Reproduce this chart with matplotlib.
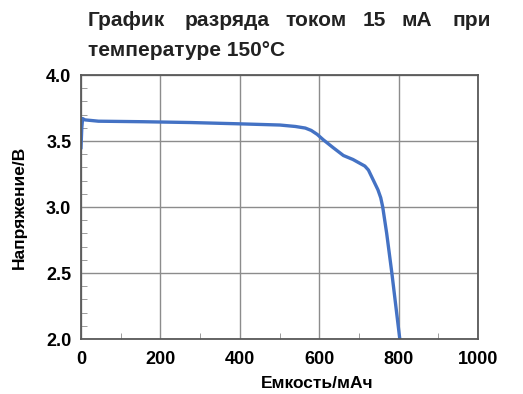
import matplotlib
matplotlib.use('Agg')
import matplotlib.pyplot as plt
from matplotlib.ticker import MultipleLocator

# discharge curve
capacity = [0, 2, 4, 10, 44, 100, 157, 275, 400, 501, 540, 565, 580, 595, 610, 635, 661, 685, 703, 715, 724, 732, 740, 748, 755, 760, 770, 783, 795, 803]
voltage = [3.45, 3.60, 3.67, 3.66, 3.65, 3.648, 3.646, 3.64, 3.63, 3.621, 3.61, 3.598, 3.58, 3.55, 3.51, 3.45, 3.39, 3.36, 3.33, 3.31, 3.28, 3.23, 3.18, 3.13, 3.07, 3.00, 2.80, 2.50, 2.20, 2.00]

title_line1 = ['График', 'разряда', 'током', '15', 'мА', 'при']
title_line2 = 'температуре 150°C'
x_label = 'Емкость/мАч'
y_label = 'Напряжение/В'

plt.rcParams['font.family'] = ['Liberation Sans', 'DejaVu Sans']
plt.rcParams['font.weight'] = 'bold'

W, H = 523, 394
fig = plt.figure(figsize=(W / 100, H / 100), dpi=100)
ax = fig.add_axes([81 / W, 1 - 339 / H, (478 - 81) / W, (339 - 75) / H])

ax.plot(capacity, voltage, color='#4472C4', lw=2.4, solid_joinstyle='round')

ax.set_xlim(0, 1000)
ax.set_ylim(2.0, 4.0)
ax.xaxis.set_minor_locator(MultipleLocator(100))
ax.yaxis.set_minor_locator(MultipleLocator(0.1))
ax.set_xticks([0, 200, 400, 600, 800, 1000])
ax.set_xticklabels(['0', '200', '400', '600', '800', '1000'])
ax.set_yticks([2.0, 2.5, 3.0, 3.5, 4.0])
ax.set_yticklabels(['2.0', '2.5', '3.0', '3.5', '4.0'])
ax.grid(True, which='major', color='#8c8c8c', lw=1.0)
ax.tick_params(which='major', length=0, pad=9, labelsize=13)
ax.tick_params(which='minor', direction='in', length=4, color='#8c8c8c')
ax.tick_params(axis='y', which='major', pad=7)
for s in ax.spines.values():
    s.set_color('#595959')
    s.set_linewidth(1.3)

fig.text(317 / W, 1 - 384 / H, x_label, ha='center', va='center', fontsize=12.5, fontweight='bold')
fig.text(19 / W, 1 - 207 / H, y_label, ha='center', va='center', rotation=90, fontsize=12.5, fontweight='bold')

# justified first title line
word_x = [88, 185, 285, 363, 402, 453]
for wx, w in zip(word_x, title_line1):
    fig.text(wx / W, 1 - 21 / H, w, ha='left', va='center', fontsize=15, fontweight='bold', color='#222222')
fig.text(88 / W, 1 - 51 / H, title_line2, ha='left', va='center', fontsize=15, fontweight='bold', color='#222222')

fig.savefig('out.png', dpi=100)
